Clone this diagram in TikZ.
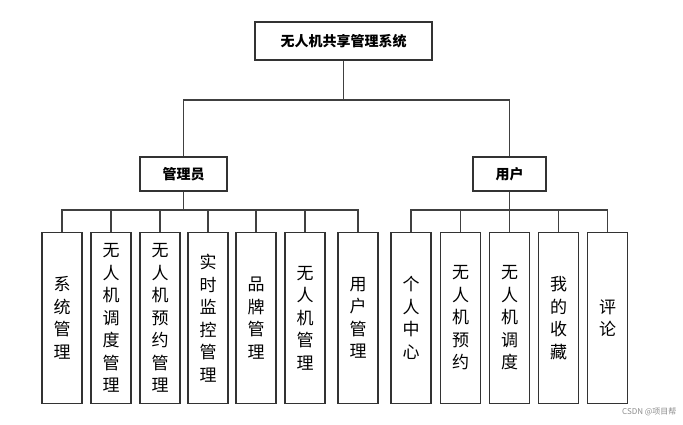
\documentclass[tikz,border=0pt]{standalone}
\usepackage{fontspec}
\setmainfont{Noto Sans CJK SC}
\begin{document}
\begin{tikzpicture}[x=1pt,y=-1pt,
  box/.style={draw=black!80,line width=1.3pt,inner sep=0pt,align=center},
  top/.style={box,font=\fontsize{14}{16}\selectfont\bfseries},
  leaf/.style={box,minimum width=40pt,minimum height=171pt,font=\fontsize{17}{22.5}\selectfont},
  ln/.style={draw=black!75,line width=1.3pt}]
\useasboundingbox (0,0) rectangle (683,424);
\node[top,minimum width=177pt,minimum height=38pt] (root) at (343.5,41) {无人机共享管理系统};
\node[top,minimum width=87pt,minimum height=34pt] (adm) at (183.5,174) {管理员};
\node[top,minimum width=73pt,minimum height=34pt] (usr) at (509.5,174) {用户};
\coordinate (j) at (343.5,100);
\draw[ln] (root.south) -- (j);
\draw[ln] (adm.north) |- (j) -| (usr.north);
\foreach \n/\x/\t in {a1/62/系\\统\\管\\理, a2/111/无\\人\\机\\调\\度\\管\\理, a3/160/无\\人\\机\\预\\约\\管\\理, a4/208/实\\时\\监\\控\\管\\理, a5/256/品\\牌\\管\\理, a6/305/无\\人\\机\\管\\理, a7/358/用\\户\\管\\理}{
  \node[leaf] (\n) at (\x,318) {\t};
  \draw[ln] (adm.south) -- (183.5,210) -| (\n.north);
}
\foreach \n/\x/\t in {u1/411/个\\人\\中\\心, u2/460.5/无\\人\\机\\预\\约, u3/509.5/无\\人\\机\\调\\度, u4/558.5/我\\的\\收\\藏, u5/607.5/评\\论}{
  \node[leaf] (\n) at (\x,318) {\t};
  \draw[ln] (usr.south) -- (509.5,210) -| (\n.north);
}
\node[font=\fontsize{8}{9}\selectfont,text=black!45,anchor=east] (wm) at (680,412) {CSDN @项目帮};
\end{tikzpicture}
\end{document}
